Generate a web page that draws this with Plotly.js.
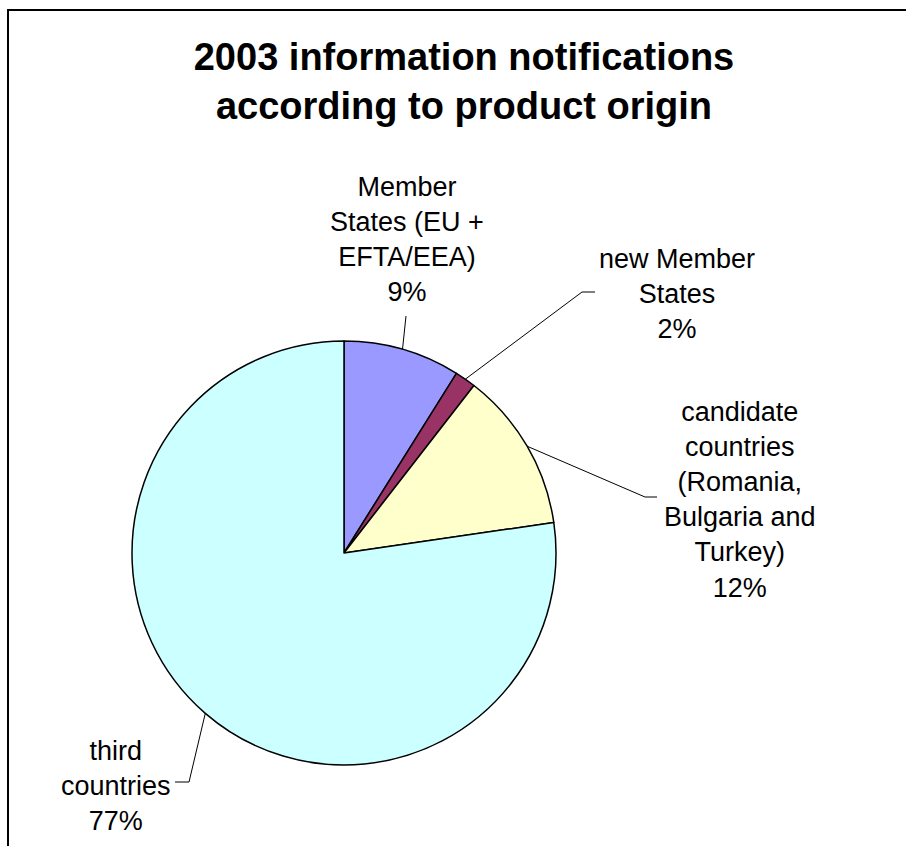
<!DOCTYPE html>
<html>
<head>
<meta charset="utf-8">
<script src="https://cdn.plot.ly/plotly-3.0.1.min.js"></script>
<style>html,body{margin:0;padding:0;background:#fff;}#chart{width:906px;height:846px;}</style>
</head>
<body>
<div id="chart"></div>
<script>
// ---- data ----
const categories = ['Member States (EU + EFTA/EEA)', 'new Member States', 'candidate countries (Romania, Bulgaria and Turkey)', 'third countries'];
const labelLines = [
  ['Member', 'States (EU +', 'EFTA/EEA)'],
  ['new Member', 'States'],
  ['candidate', 'countries', '(Romania,', 'Bulgaria and', 'Turkey)'],
  ['third', 'countries']
];
const values = [8.9, 1.6, 12.2, 77.3];
const colors = ['#9999FF', '#993366', '#FFFFCC', '#CCFFFF'];
const titleText = '2003 information notifications<br>according to product origin';

// ---- layout config (pixels) ----
const W = 906, H = 846;
const cx = 344, cy = 553, R = 212;
const labelPos = [[407, 240], [677, 294], [740, 500], [116, 786]];
const elbows = [
  [[406, 316]],
  [[582, 292], [595, 292]],
  [[645, 497], [657, 497]],
  [[189, 782], [175, 782]]
];

const px = x => x / W;
const py = y => 1 - y / H;

const total = values.reduce((a, b) => a + b, 0);
const pct = values.map(v => Math.round(v / total * 100) + '%');

// mid-angles of slices (clockwise from 12 o'clock)
let cum = 0;
const mids = values.map(v => { const m = (cum + v / 2) / total * 2 * Math.PI; cum += v; return m; });

const shapes = [];
// frame (left and top edges)
shapes.push({type: 'path', xref: 'paper', yref: 'paper',
  path: 'M' + px(8) + ',0 L' + px(8) + ',' + py(10) + ' L1,' + py(10),
  line: {color: '#000', width: 2}, layer: 'below'});
// leader lines
mids.forEach((a, i) => {
  const sx = cx + R * Math.sin(a), sy = cy - R * Math.cos(a);
  let path = 'M' + px(sx) + ',' + py(sy);
  elbows[i].forEach(p => { path += ' L' + px(p[0]) + ',' + py(p[1]); });
  shapes.push({type: 'path', xref: 'paper', yref: 'paper', path: path, line: {color: '#000', width: 1}});
});

const annotations = labelLines.map((lines, i) => ({
  xref: 'paper', yref: 'paper',
  x: px(labelPos[i][0]), y: py(labelPos[i][1]),
  xanchor: 'center', yanchor: 'middle', align: 'center',
  text: lines.concat([pct[i]]).join('<br>'),
  showarrow: false,
  font: {family: 'Liberation Sans, Arial, sans-serif', size: 27, color: '#000'}
}));

const trace = {
  type: 'pie',
  labels: categories,
  values: values,
  sort: false,
  direction: 'clockwise',
  rotation: 0,
  textinfo: 'none',
  hoverinfo: 'label+percent',
  marker: {colors: colors, line: {color: '#000', width: 1.5}},
  domain: {x: [px(cx - R), px(cx + R)], y: [py(cy + R), py(cy - R)]},
  showlegend: false
};

const layout = {
  width: W, height: H,
  margin: {l: 0, r: 0, t: 0, b: 0},
  paper_bgcolor: '#fff',
  showlegend: false,
  title: {
    text: titleText,
    font: {family: 'Liberation Sans, Arial, sans-serif', size: 38, weight: 'bold', color: '#000'},
    x: px(464), xanchor: 'center', xref: 'paper',
    y: py(70), yanchor: 'top', yref: 'container'
  },
  shapes: shapes,
  annotations: annotations
};

Plotly.newPlot('chart', [trace], layout, {displayModeBar: false, staticPlot: true});
</script>
</body>
</html>
